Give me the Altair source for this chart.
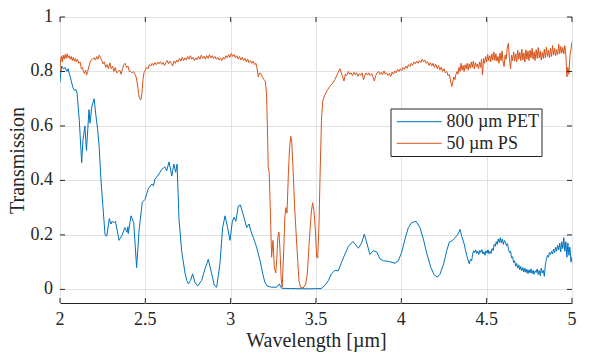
import altair as alt
import pandas as pd

# ---------------- data ----------------
series_names = ["800 µm PET", "50 µm PS"]
series_colors = ["#0072BD", "#D95319"]
x_ticks = [2, 2.5, 3, 3.5, 4, 4.5, 5]
x_tick_labels = ["2", "2.5", "3", "3.5", "4", "4.5", "5"]
y_ticks = [0, 0.2, 0.4, 0.6, 0.8, 1]
y_tick_labels = ["0", "0.2", "0.4", "0.6", "0.8", "1"]

pet_wl = [
    2.000, 2.005, 2.010, 2.020, 2.030, 2.040, 2.047, 2.060, 2.076, 2.085, 2.092, 2.100,
    2.113, 2.127, 2.135, 2.146, 2.155, 2.170, 2.176, 2.186, 2.200, 2.210, 2.220, 2.230,
    2.238, 2.252, 2.264, 2.274, 2.289, 2.299, 2.306, 2.317, 2.325, 2.346, 2.362, 2.380,
    2.393, 2.398, 2.400, 2.416, 2.432, 2.449, 2.463, 2.482, 2.498, 2.518, 2.538, 2.547,
    2.557, 2.576, 2.596, 2.615, 2.625, 2.639, 2.655, 2.667, 2.678, 2.686, 2.697, 2.713,
    2.733, 2.743, 2.752, 2.765, 2.777, 2.790, 2.807, 2.830, 2.850, 2.869, 2.889, 2.904,
    2.918, 2.937, 2.953, 2.967, 2.982, 2.996, 3.010, 3.020, 3.030, 3.045, 3.057, 3.071,
    3.094, 3.108, 3.118, 3.133, 3.152, 3.172, 3.188, 3.200, 3.214, 3.240, 3.270, 3.285,
    3.299, 3.350, 3.450, 3.530, 3.553, 3.573, 3.590, 3.611, 3.630, 3.650, 3.670, 3.690,
    3.715, 3.728, 3.748, 3.767, 3.783, 3.798, 3.816, 3.836, 3.855, 3.875, 3.895, 3.924,
    3.963, 3.982, 4.002, 4.022, 4.041, 4.060, 4.086, 4.109, 4.129, 4.150, 4.173, 4.193,
    4.211, 4.226, 4.248, 4.266, 4.281, 4.301, 4.315, 4.329, 4.344, 4.354, 4.368, 4.383,
    4.398, 4.405, 4.412, 4.418, 4.424, 4.430, 4.436, 4.442, 4.448, 4.454, 4.460, 4.466,
    4.472, 4.478, 4.484, 4.490, 4.496, 4.502, 4.508, 4.514, 4.520, 4.526, 4.532, 4.538,
    4.544, 4.550, 4.556, 4.562, 4.568, 4.574, 4.580, 4.586, 4.592, 4.598, 4.604, 4.610,
    4.616, 4.622, 4.628, 4.634, 4.640, 4.646, 4.652, 4.658, 4.664, 4.670, 4.676, 4.682,
    4.688, 4.694, 4.700, 4.706, 4.712, 4.718, 4.724, 4.730, 4.736, 4.742, 4.748, 4.754,
    4.760, 4.766, 4.772, 4.778, 4.784, 4.790, 4.796, 4.802, 4.808, 4.814, 4.820, 4.826,
    4.832, 4.838, 4.844, 4.850, 4.856, 4.862, 4.868, 4.874, 4.880, 4.886, 4.892, 4.898,
    4.904, 4.910, 4.916, 4.922, 4.928, 4.934, 4.940, 4.946, 4.952, 4.958, 4.964, 4.970,
    4.976, 4.982, 4.988, 4.994, 5.000,
]
pet_t = [
    0.76, 0.80, 0.82, 0.81, 0.815, 0.80, 0.81, 0.78, 0.74, 0.73, 0.735, 0.72,
    0.62, 0.465, 0.55, 0.60, 0.51, 0.66, 0.61, 0.67, 0.70, 0.64, 0.59, 0.52,
    0.42, 0.30, 0.20, 0.195, 0.26, 0.24, 0.25, 0.245, 0.25, 0.18, 0.197, 0.227,
    0.21, 0.23, 0.205, 0.27, 0.245, 0.08, 0.215, 0.32, 0.33, 0.37, 0.387, 0.38,
    0.405, 0.42, 0.44, 0.45, 0.435, 0.468, 0.416, 0.46, 0.43, 0.46, 0.26, 0.14,
    0.058, 0.033, 0.02, 0.033, 0.057, 0.027, 0.012, 0.033, 0.076, 0.11, 0.057, 0.015,
    0.008, 0.094, 0.227, 0.27, 0.227, 0.18, 0.25, 0.265, 0.25, 0.306, 0.31, 0.28,
    0.227, 0.24, 0.215, 0.19, 0.155, 0.106, 0.057, 0.027, 0.012, 0.008, 0.008, 0.02,
    0.004, 0.003, 0.002, 0.003, 0.015, 0.033, 0.057, 0.07, 0.068, 0.10, 0.13, 0.158,
    0.175, 0.168, 0.151, 0.17, 0.203, 0.17, 0.128, 0.142, 0.138, 0.112, 0.105, 0.103,
    0.096, 0.105, 0.136, 0.185, 0.227, 0.245, 0.25, 0.227, 0.185, 0.13, 0.08, 0.053,
    0.045, 0.055, 0.094, 0.142, 0.173, 0.18, 0.19, 0.20, 0.22, 0.195, 0.167, 0.124,
    0.094, 0.11, 0.105, 0.13, 0.142, 0.135, 0.145, 0.132, 0.14, 0.128, 0.143, 0.136,
    0.146, 0.13, 0.138, 0.125, 0.142, 0.133, 0.145, 0.13, 0.14, 0.132, 0.15, 0.142,
    0.165, 0.158, 0.175, 0.165, 0.185, 0.172, 0.19, 0.17, 0.185, 0.165, 0.18, 0.172,
    0.16, 0.168, 0.148, 0.135, 0.14, 0.115, 0.12, 0.098, 0.105, 0.085, 0.095, 0.078,
    0.09, 0.072, 0.084, 0.068, 0.08, 0.064, 0.078, 0.062, 0.074, 0.058, 0.072, 0.06,
    0.075, 0.058, 0.07, 0.055, 0.068, 0.062, 0.075, 0.055, 0.07, 0.05, 0.078, 0.06,
    0.07, 0.048, 0.09, 0.11, 0.125, 0.118, 0.135, 0.128, 0.14, 0.13, 0.148, 0.135,
    0.155, 0.14, 0.162, 0.145, 0.17, 0.138, 0.175, 0.15, 0.19, 0.14, 0.175, 0.118,
    0.17, 0.125, 0.155, 0.10, 0.12,
]

ps_wl = [
    2.000, 2.003, 2.008, 2.013, 2.018, 2.024, 2.030, 2.036, 2.042, 2.048, 2.054, 2.060,
    2.066, 2.072, 2.078, 2.084, 2.090, 2.096, 2.102, 2.110, 2.118, 2.125, 2.132, 2.137,
    2.143, 2.150, 2.156, 2.162, 2.170, 2.180, 2.190, 2.200, 2.208, 2.215, 2.222, 2.230,
    2.238, 2.245, 2.252, 2.260, 2.268, 2.276, 2.284, 2.292, 2.300, 2.308, 2.316, 2.324,
    2.332, 2.342, 2.350, 2.358, 2.366, 2.374, 2.382, 2.390, 2.398, 2.406, 2.414, 2.422,
    2.430, 2.438, 2.446, 2.455, 2.460, 2.466, 2.474, 2.480, 2.486, 2.492, 2.500, 2.508,
    2.516, 2.524, 2.532, 2.540, 2.548, 2.556, 2.564, 2.572, 2.580, 2.588, 2.596, 2.604,
    2.612, 2.620, 2.628, 2.636, 2.644, 2.652, 2.660, 2.668, 2.676, 2.684, 2.692, 2.700,
    2.708, 2.716, 2.724, 2.732, 2.740, 2.748, 2.756, 2.764, 2.772, 2.780, 2.788, 2.796,
    2.804, 2.812, 2.820, 2.828, 2.836, 2.844, 2.852, 2.860, 2.868, 2.876, 2.884, 2.892,
    2.900, 2.908, 2.916, 2.924, 2.932, 2.940, 2.948, 2.956, 2.964, 2.972, 2.980, 2.988,
    2.996, 3.004, 3.012, 3.020, 3.028, 3.036, 3.044, 3.052, 3.060, 3.068, 3.076, 3.084,
    3.092, 3.100, 3.108, 3.116, 3.124, 3.132, 3.140, 3.148, 3.155, 3.162, 3.170, 3.178,
    3.186, 3.195, 3.203, 3.210, 3.215, 3.220, 3.226, 3.232, 3.240, 3.248, 3.256, 3.264,
    3.270, 3.276, 3.283, 3.289, 3.296, 3.302, 3.310, 3.318, 3.324, 3.330, 3.338, 3.345,
    3.352, 3.358, 3.365, 3.375, 3.387, 3.400, 3.410, 3.425, 3.440, 3.449, 3.462, 3.472,
    3.480, 3.488, 3.496, 3.504, 3.510, 3.518, 3.525, 3.532, 3.539, 3.550, 3.565, 3.580,
    3.595, 3.611, 3.625, 3.640, 3.648, 3.656, 3.664, 3.672, 3.680, 3.690, 3.698, 3.706,
    3.714, 3.722, 3.730, 3.738, 3.746, 3.754, 3.762, 3.770, 3.778, 3.786, 3.794, 3.802,
    3.810, 3.818, 3.826, 3.834, 3.842, 3.850, 3.858, 3.866, 3.874, 3.882, 3.890, 3.898,
    3.906, 3.914, 3.922, 3.930, 3.938, 3.946, 3.954, 3.962, 3.970, 3.978, 3.986, 3.994,
    4.002, 4.010, 4.018, 4.026, 4.034, 4.042, 4.050, 4.058, 4.066, 4.074, 4.082, 4.090,
    4.098, 4.106, 4.114, 4.122, 4.130, 4.138, 4.146, 4.154, 4.162, 4.170, 4.178, 4.186,
    4.194, 4.202, 4.210, 4.218, 4.226, 4.234, 4.242, 4.250, 4.258, 4.266, 4.274, 4.282,
    4.290, 4.296, 4.302, 4.308, 4.314, 4.320, 4.326, 4.332, 4.338, 4.344, 4.350, 4.356,
    4.362, 4.368, 4.374, 4.380, 4.386, 4.392, 4.398, 4.404, 4.410, 4.416, 4.422, 4.428,
    4.434, 4.440, 4.446, 4.452, 4.458, 4.464, 4.470, 4.476, 4.482, 4.488, 4.494, 4.500,
    4.506, 4.512, 4.518, 4.524, 4.530, 4.536, 4.542, 4.548, 4.554, 4.560, 4.566, 4.572,
    4.578, 4.584, 4.590, 4.596, 4.602, 4.608, 4.614, 4.620, 4.627, 4.633, 4.640, 4.646,
    4.652, 4.658, 4.664, 4.670, 4.676, 4.682, 4.688, 4.694, 4.700, 4.706, 4.712, 4.718,
    4.724, 4.730, 4.736, 4.742, 4.748, 4.754, 4.760, 4.766, 4.772, 4.778, 4.784, 4.790,
    4.796, 4.802, 4.808, 4.814, 4.820, 4.826, 4.832, 4.838, 4.844, 4.850, 4.856, 4.862,
    4.868, 4.874, 4.880, 4.886, 4.892, 4.898, 4.904, 4.910, 4.916, 4.922, 4.928, 4.934,
    4.940, 4.946, 4.952, 4.958, 4.964, 4.970, 4.976, 4.982, 4.988, 4.994, 5.000,
]
ps_t = [
    0.80, 0.84, 0.855, 0.835, 0.86, 0.845, 0.862, 0.848, 0.865, 0.85, 0.858, 0.845,
    0.855, 0.84, 0.852, 0.838, 0.848, 0.835, 0.845, 0.83, 0.835, 0.81, 0.815, 0.80,
    0.793, 0.805, 0.787, 0.80, 0.82, 0.84, 0.845, 0.85, 0.842, 0.855, 0.845, 0.86,
    0.85, 0.84, 0.828, 0.835, 0.815, 0.825, 0.81, 0.832, 0.81, 0.82, 0.80, 0.815,
    0.795, 0.80, 0.805, 0.79, 0.81, 0.825, 0.83, 0.815, 0.82, 0.80, 0.80, 0.795,
    0.80, 0.79, 0.78, 0.75, 0.72, 0.70, 0.696, 0.72, 0.77, 0.795, 0.805, 0.815,
    0.81, 0.825, 0.82, 0.83, 0.822, 0.832, 0.825, 0.835, 0.828, 0.836, 0.826, 0.833,
    0.822, 0.832, 0.84, 0.828, 0.838, 0.83, 0.82, 0.838, 0.83, 0.842, 0.835, 0.848,
    0.838, 0.852, 0.84, 0.85, 0.842, 0.855, 0.845, 0.858, 0.845, 0.852, 0.84, 0.85,
    0.843, 0.855, 0.845, 0.86, 0.848, 0.856, 0.845, 0.858, 0.848, 0.862, 0.85, 0.858,
    0.848, 0.855, 0.845, 0.852, 0.842, 0.85, 0.84, 0.852, 0.845, 0.858, 0.85, 0.862,
    0.852, 0.866, 0.855, 0.862, 0.85, 0.858, 0.846, 0.855, 0.842, 0.852, 0.84, 0.848,
    0.835, 0.845, 0.832, 0.84, 0.83, 0.838, 0.825, 0.83, 0.81, 0.78, 0.795, 0.79,
    0.78, 0.77, 0.765, 0.72, 0.60, 0.45, 0.428, 0.30, 0.118, 0.18, 0.08, 0.06,
    0.11, 0.19, 0.21, 0.145, 0.04, 0.008, 0.13, 0.27, 0.30, 0.28, 0.42, 0.52,
    0.562, 0.54, 0.45, 0.30, 0.167, 0.033, 0.008, 0.005, 0.02, 0.057, 0.19, 0.28,
    0.318, 0.29, 0.22, 0.118, 0.115, 0.25, 0.45, 0.62, 0.69, 0.712, 0.73, 0.745,
    0.755, 0.77, 0.79, 0.81, 0.795, 0.78, 0.765, 0.79, 0.785, 0.80, 0.79, 0.795,
    0.785, 0.797, 0.788, 0.795, 0.782, 0.792, 0.786, 0.795, 0.77, 0.785, 0.795, 0.787,
    0.795, 0.785, 0.792, 0.78, 0.765, 0.785, 0.795, 0.80, 0.79, 0.797, 0.788, 0.802,
    0.79, 0.795, 0.785, 0.793, 0.782, 0.798, 0.79, 0.802, 0.795, 0.808, 0.80, 0.81,
    0.802, 0.815, 0.808, 0.82, 0.812, 0.825, 0.818, 0.83, 0.822, 0.835, 0.828, 0.838,
    0.83, 0.84, 0.832, 0.845, 0.836, 0.842, 0.83, 0.836, 0.822, 0.832, 0.82, 0.83,
    0.815, 0.826, 0.81, 0.822, 0.805, 0.816, 0.80, 0.81, 0.795, 0.80, 0.785, 0.79,
    0.76, 0.745, 0.765, 0.78, 0.77, 0.79, 0.80, 0.79, 0.815, 0.80, 0.83, 0.805,
    0.822, 0.80, 0.825, 0.81, 0.83, 0.805, 0.828, 0.812, 0.835, 0.815, 0.838, 0.81,
    0.832, 0.818, 0.828, 0.81, 0.835, 0.815, 0.845, 0.787, 0.848, 0.83, 0.855, 0.835,
    0.862, 0.84, 0.858, 0.835, 0.865, 0.842, 0.872, 0.84, 0.865, 0.838, 0.855, 0.83,
    0.868, 0.84, 0.875, 0.835, 0.818, 0.86, 0.845, 0.885, 0.903, 0.85, 0.81, 0.86,
    0.84, 0.872, 0.838, 0.865, 0.835, 0.878, 0.845, 0.87, 0.84, 0.882, 0.842, 0.868,
    0.835, 0.88, 0.845, 0.875, 0.84, 0.878, 0.85, 0.885, 0.845, 0.872, 0.84, 0.88,
    0.848, 0.888, 0.85, 0.875, 0.842, 0.87, 0.848, 0.882, 0.85, 0.89, 0.855, 0.878,
    0.85, 0.885, 0.855, 0.895, 0.86, 0.885, 0.858, 0.88, 0.862, 0.90, 0.865, 0.892,
    0.868, 0.888, 0.865, 0.895, 0.86, 0.78, 0.815, 0.79, 0.86, 0.88, 0.909,
]

# ---------------- build table ----------------
rows = []
for w, t in zip(pet_wl, pet_t):
    rows.append({"wl": w, "T": t, "series": series_names[0]})
for w, t in zip(ps_wl, ps_t):
    rows.append({"wl": w, "T": t, "series": series_names[1]})
df = pd.DataFrame(rows)

W, H = 512, 286
FONT = "Liberation Serif"
INK = "#262626"

xscale = alt.Scale(domain=[2, 5], nice=False, zero=False)
yscale = alt.Scale(domain=[-0.05, 1], nice=False, zero=False)
# axes supply grid and titles; tick labels are drawn as serif text layers below
xaxis = alt.Axis(values=x_ticks, labels=False, title="Wavelength [µm]",
                 titlePadding=27)
yaxis = alt.Axis(values=y_ticks, labels=False, title="Transmission",
                 titlePadding=32)

color_scale = alt.Scale(domain=series_names, range=series_colors)

lines = alt.Chart(df).mark_line(strokeWidth=1, clip=True).encode(
    x=alt.X("wl:Q", scale=xscale, axis=xaxis),
    y=alt.Y("T:Q", scale=yscale, axis=yaxis),
    color=alt.Color("series:N", scale=color_scale, legend=None),
)

# inward tick marks on all four sides of the box (MATLAB style)
xt = pd.DataFrame({"wl": x_ticks, "label": x_tick_labels})
yt = pd.DataFrame({"T": y_ticks, "label": y_tick_labels})
tick_style = dict(color=INK, strokeWidth=1)

bottom_ticks = alt.Chart(xt).mark_rule(**tick_style).encode(
    x=alt.X("wl:Q", scale=xscale, axis=xaxis), y=alt.value(H), y2=alt.value(H - 5))
top_ticks = alt.Chart(xt).mark_rule(**tick_style).encode(
    x=alt.X("wl:Q", scale=xscale, axis=xaxis), y=alt.value(0), y2=alt.value(5))
left_ticks = alt.Chart(yt).mark_rule(**tick_style).encode(
    y=alt.Y("T:Q", scale=yscale, axis=yaxis), x=alt.value(0), x2=alt.value(5))
right_ticks = alt.Chart(yt).mark_rule(**tick_style).encode(
    y=alt.Y("T:Q", scale=yscale, axis=yaxis), x=alt.value(W - 5), x2=alt.value(W))

# tick labels (serif, like the MATLAB original)
x_labels = alt.Chart(xt).mark_text(font=FONT, fontSize=18, color=INK,
                                   align="center", baseline="top").encode(
    x=alt.X("wl:Q", scale=xscale, axis=xaxis), y=alt.value(H + 8), text="label:N")
y_labels = alt.Chart(yt).mark_text(font=FONT, fontSize=18, color=INK,
                                   align="right", baseline="middle").encode(
    y=alt.Y("T:Q", scale=yscale, axis=yaxis), x=alt.value(-7), text="label:N")

# legend box drawn in the MATLAB manner
LX0, LX1, LY0, LY1 = 331, 482, 92, 139.5
one = pd.DataFrame({"k": [0]})
legend_box = alt.Chart(one).mark_rect(fill="white", stroke=INK, strokeWidth=1).encode(
    x=alt.value(LX0), x2=alt.value(LX1), y=alt.value(LY0), y2=alt.value(LY1))
legend_layers = [legend_box]
row_y = [104.7, 126.3]
for name, col, ry in zip(series_names, series_colors, row_y):
    legend_layers.append(
        alt.Chart(one).mark_rule(color=col, strokeWidth=1).encode(
            x=alt.value(336.7), x2=alt.value(381.7), y=alt.value(ry)))
    legend_layers.append(
        alt.Chart(one).mark_text(text=name, align="left", baseline="middle",
                                 font=FONT, fontSize=18, color=INK).encode(
            x=alt.value(386.5), y=alt.value(ry + 0.5)))

chart = alt.layer(lines, bottom_ticks, top_ticks, left_ticks, right_ticks,
                  x_labels, y_labels, *legend_layers).properties(
    width=W, height=H,
    autosize=alt.AutoSizeParams(type="none"),
    padding={"left": 52, "top": 9, "right": 20, "bottom": 49},
    background="white",
).configure(
    font=FONT
).configure_view(
    stroke=INK, strokeWidth=1
).configure_axis(
    tickSize=0, domain=False,
    titleFont=FONT, titleFontSize=20, titleFontWeight="normal", titleColor=INK,
    gridColor="#e2e2e2", gridWidth=1,
)

chart.save("out.html", embed_options={"renderer": "svg", "actions": False})
